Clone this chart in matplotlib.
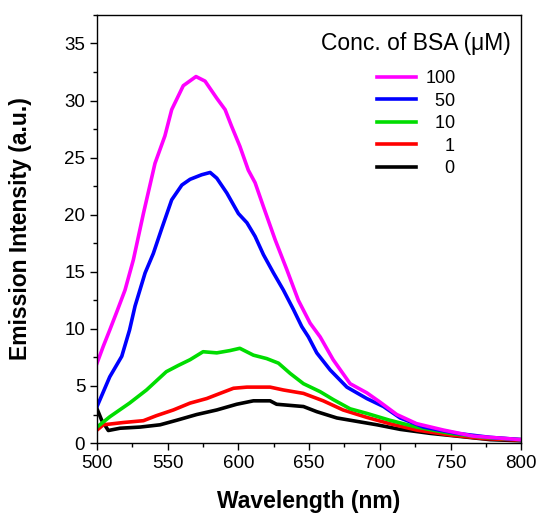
import numpy as np
import matplotlib
matplotlib.use("Agg")
import matplotlib.pyplot as plt
from matplotlib.ticker import MultipleLocator

plt.rcParams['font.family'] = ['Liberation Sans', 'DejaVu Sans']

# ---- data (wavelength nm, intensity a.u.) ----
wl_100 = [500, 504.5, 509, 514, 519.8, 525.7, 532.8, 541, 548, 552.8, 561, 570, 576.4, 584.7,
          590.6, 595, 601, 607, 611.8, 617.7, 626, 634.2, 642.4, 650.7, 657.8, 667, 679,
          690.8, 700, 712, 726, 745, 766, 800]
int_100 = [7.0, 8.5, 9.9, 11.5, 13.4, 16.05, 20.1, 24.5, 26.9, 29.2, 31.3, 32.1, 31.7, 30.2,
           29.2, 27.8, 26.0, 23.9, 22.8, 20.7, 17.8, 15.2, 12.5, 10.5, 9.3, 7.3, 5.2,
           4.4, 3.6, 2.5, 1.7, 1.14, 0.61, 0.3]

wl_50 = [500, 509, 517.5, 523, 526.9, 534, 539.8, 545.8, 552.8, 560, 565.8, 574, 580,
         584.7, 591.8, 600, 606, 611.8, 617.7, 624.8, 631.8, 638.9, 644.8, 649.5, 655.4,
         664.9, 676.7, 690.8, 702.6, 714.4, 731, 754.5, 778, 800]
int_50 = [3.2, 5.8, 7.6, 9.9, 12.0, 14.9, 16.6, 18.8, 21.3, 22.6, 23.1, 23.5, 23.7,
          23.2, 21.9, 20.1, 19.3, 18.1, 16.5, 14.9, 13.4, 11.7, 10.2, 9.3, 7.9,
          6.4, 4.9, 3.9, 3.2, 2.2, 1.4, 0.85, 0.5, 0.3]

wl_10 = [500, 509, 523, 535, 549, 557.5, 565.8, 575, 584.7, 594, 601, 610.6, 620, 628.3,
         636.6, 646, 657.8, 667.2, 679, 690.8, 707, 726, 750, 773, 800]
int_10 = [1.4, 2.3, 3.5, 4.65, 6.25, 6.8, 7.3, 8.0, 7.9, 8.1, 8.3, 7.7, 7.4, 7.0,
          6.1, 5.2, 4.5, 3.8, 3.0, 2.6, 2.0, 1.4, 0.85, 0.5, 0.3]

wl_1 = [500, 504.5, 518.6, 532.8, 542, 554, 565.8, 577.6, 587, 596.5, 606, 622.4, 631.8,
        646, 660, 674, 690.8, 707, 726, 750, 773, 800]
int_1 = [1.14, 1.6, 1.8, 1.96, 2.4, 2.9, 3.5, 3.9, 4.35, 4.8, 4.9, 4.9, 4.65,
         4.35, 3.7, 2.9, 2.25, 1.7, 1.14, 0.7, 0.4, 0.25]

wl_0 = [500, 503.3, 508, 516.3, 530.4, 544.6, 556.4, 570.5, 584.7, 598.8, 610.6, 622.4,
        627, 646, 655.4, 669.6, 683.8, 698, 714.4, 735.6, 759, 778, 800]
int_0 = [3.0, 2.0, 1.1, 1.3, 1.4, 1.6, 2.0, 2.5, 2.9, 3.4, 3.7, 3.7,
         3.4, 3.2, 2.75, 2.2, 1.9, 1.6, 1.2, 0.85, 0.55, 0.3, 0.2]

labels = ['100', '50', '10', '1', '0']
colors = ['#ff00ff', '#0000ff', '#00dd00', '#ff0000', '#000000']
series = [(wl_100, int_100), (wl_50, int_50), (wl_10, int_10), (wl_1, int_1), (wl_0, int_0)]

fig = plt.figure(figsize=(5.39, 5.14), dpi=100)
ax = fig.add_axes([0.180, 0.138, 0.787, 0.833])

# draw back to front so magenta sits on top like the original
for (x, y), lab, c in reversed(list(zip(series, labels, colors))):
    # pad with two spaces per missing digit so the numbers line up on the right
    ax.plot(x, y, color=c, lw=2.6, label=lab.rjust(3).replace(' ', '  '))

ax.set_xlim(500, 800)
ax.set_ylim(0, 37.5)
ax.xaxis.set_major_locator(MultipleLocator(50))
ax.xaxis.set_minor_locator(MultipleLocator(25))
ax.yaxis.set_major_locator(MultipleLocator(5))
ax.yaxis.set_minor_locator(MultipleLocator(2.5))
ax.tick_params(which='both', direction='out', top=False, right=False, labelsize=13.5)
ax.tick_params(which='major', length=5, width=1)
ax.tick_params(which='minor', length=3, width=1)
for s in ax.spines.values():
    s.set_linewidth(1)

ax.set_xlabel('Wavelength (nm)', fontsize=16.5, fontweight='bold', labelpad=13)
ax.set_ylabel('Emission Intensity (a.u.)', fontsize=16.5, fontweight='bold', labelpad=23)

h, l = ax.get_legend_handles_labels()
leg = ax.legend(h[::-1], l[::-1], title='Conc. of BSA (\u03bcM)', frameon=False,
                loc='upper right', bbox_to_anchor=(0.993, 0.977), fontsize=13,
                title_fontsize=16.5, handlelength=2.2, handletextpad=0.5,
                labelspacing=0.3, borderaxespad=0, borderpad=0.4)
leg._legend_box.sep = 11

fig.savefig('out.png', dpi=100)
